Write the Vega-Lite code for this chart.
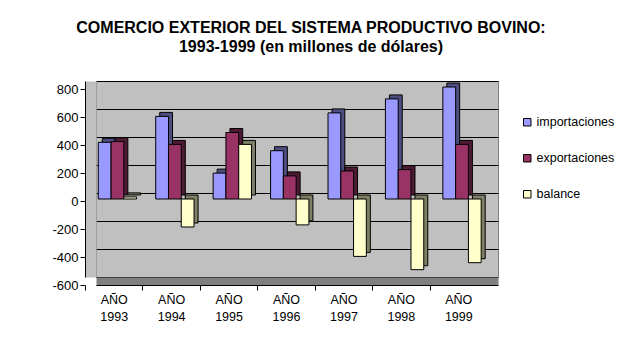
{
  "$schema": "https://vega.github.io/schema/vega-lite/v6.json",
  "width": 402,
  "height": 196,
  "autosize": {"type": "none"},
  "padding": {"left": 96, "top": 81, "right": 124, "bottom": 68},
  "background": "white",
  "title": {
    "text": ["COMERCIO EXTERIOR DEL SISTEMA PRODUCTIVO BOVINO:", "1993-1999 (en millones de dólares)"],
    "font": "Liberation Sans",
    "fontSize": 16,
    "fontWeight": "bold",
    "color": "black",
    "anchor": "middle",
    "dx": 14,
    "offset": 26,
    "lineHeight": 19
  },
  "config": {
    "view": {"fill": "#c0c0c0", "stroke": "#808080"},
    "font": "Liberation Sans"
  },
  "data": {
    "values": [
      {"anio": "AÑO 1993", "serie": "importaciones", "valor": 405},
      {"anio": "AÑO 1993", "serie": "exportaciones", "valor": 410},
      {"anio": "AÑO 1993", "serie": "balance", "valor": 15},
      {"anio": "AÑO 1994", "serie": "importaciones", "valor": 590},
      {"anio": "AÑO 1994", "serie": "exportaciones", "valor": 390},
      {"anio": "AÑO 1994", "serie": "balance", "valor": -200},
      {"anio": "AÑO 1995", "serie": "importaciones", "valor": 185},
      {"anio": "AÑO 1995", "serie": "exportaciones", "valor": 475},
      {"anio": "AÑO 1995", "serie": "balance", "valor": 390},
      {"anio": "AÑO 1996", "serie": "importaciones", "valor": 345},
      {"anio": "AÑO 1996", "serie": "exportaciones", "valor": 165},
      {"anio": "AÑO 1996", "serie": "balance", "valor": -185},
      {"anio": "AÑO 1997", "serie": "importaciones", "valor": 615},
      {"anio": "AÑO 1997", "serie": "exportaciones", "valor": 200},
      {"anio": "AÑO 1997", "serie": "balance", "valor": -410},
      {"anio": "AÑO 1998", "serie": "importaciones", "valor": 715},
      {"anio": "AÑO 1998", "serie": "exportaciones", "valor": 210},
      {"anio": "AÑO 1998", "serie": "balance", "valor": -505},
      {"anio": "AÑO 1999", "serie": "importaciones", "valor": 800},
      {"anio": "AÑO 1999", "serie": "exportaciones", "valor": 390},
      {"anio": "AÑO 1999", "serie": "balance", "valor": -455}
    ]
  },
  "layer": [
    {
      "mark": {"type": "bar", "yOffset": 2, "y2Offset": 2, "stroke": "black", "strokeWidth": 1},
      "encoding": {
        "x": {
          "field": "anio", "type": "nominal", "sort": null,
          "scale": {"paddingInner": 0, "paddingOuter": 0},
          "axis": {"orient": "bottom", "domainColor": "#808080", "domainWidth": 8, "offset": 4, "ticks": false, "labels": false, "title": null, "grid": false, "zindex": 0}
        },
        "xOffset": {
          "field": "serie", "sort": ["importaciones", "exportaciones", "balance"],
          "scale": {"paddingInner": 0, "paddingOuter": 0.748, "align": 0.33}
        },
        "y": {
          "field": "valor", "type": "quantitative",
          "scale": {"domain": [-600, 800], "nice": false, "zero": false},
          "axis": {"orient": "left", "values": [-600, -400, -200, 0, 200, 400, 600, 800], "grid": true, "gridColor": "black", "gridWidth": 1, "gridOpacity": 1, "ticks": false, "labels": false, "domainColor": "#c0c0c0", "domainWidth": 11, "offset": 5.5, "title": null, "zindex": 0}
        },
        "color": {
          "field": "serie", "type": "nominal",
          "scale": {"domain": ["importaciones", "exportaciones", "balance"], "range": ["#4d4d80", "#4d1a33", "#808066"]},
          "legend": null
        }
      }
    },
    {
      "mark": {"type": "bar", "yOffset": 6, "y2Offset": 6, "stroke": "black", "strokeWidth": 1},
      "encoding": {
        "x": {
          "field": "anio", "type": "nominal", "sort": null,
          "scale": {"paddingInner": 0, "paddingOuter": 0},
          "axis": {"orient": "bottom", "offset": 8, "bandPosition": 0, "tickOffset": -11, "labelOffset": 0, "domainColor": "black", "tickColor": "black", "tickSize": 5, "labelExpr": "split(datum.label, ' ')", "labelFont": "Liberation Sans", "labelFontSize": 12.5, "labelColor": "black", "labelPadding": 3, "labelLineHeight": 17, "labelAngle": 0, "labelAlign": "center", "labelBaseline": "top", "title": null, "grid": false, "zindex": 2}
        },
        "xOffset": {
          "field": "serie", "sort": ["importaciones", "exportaciones", "balance"],
          "scale": {"paddingInner": 0, "paddingOuter": 0.748, "align": 0.12}
        },
        "y": {
          "field": "valor", "type": "quantitative",
          "scale": {"domain": [-600, 800], "nice": false, "zero": false},
          "axis": {"orient": "left", "values": [-600, -400, -200, 0, 200, 400, 600, 800], "labelExpr": "datum.value < 0 ? '-' + abs(datum.value) : '' + datum.value", "grid": false, "offset": 11, "tickOffset": 8, "tickSize": 5, "tickColor": "black", "domainColor": "black", "labelFont": "Liberation Sans", "labelFontSize": 13, "labelColor": "black", "labelPadding": 2, "title": null, "zindex": 2}
        },
        "color": {
          "field": "serie", "type": "nominal",
          "scale": {"domain": ["importaciones", "exportaciones", "balance"], "range": ["#9999ff", "#993366", "#ffffcc"]},
          "legend": {"orient": "none", "legendX": 425, "legendY": 35, "title": null, "symbolType": "square", "symbolSize": 56, "symbolStrokeColor": "black", "symbolStrokeWidth": 1, "symbolOpacity": 1, "labelFont": "Liberation Sans", "labelFontSize": 12.5, "labelColor": "black", "rowPadding": 23, "labelOffset": 3, "padding": 0}
        }
      }
    }
  ],
  "resolve": {
    "scale": {"xOffset": "independent", "color": "independent"},
    "axis": {"x": "independent", "y": "independent"}
  }
}
